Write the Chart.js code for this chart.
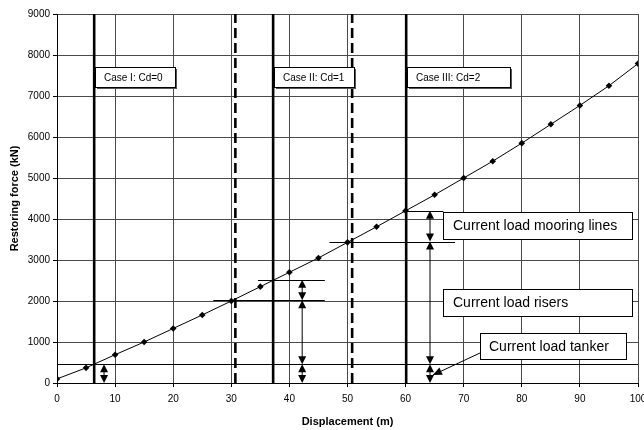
<!DOCTYPE html>
<html>
<head>
<meta charset="utf-8">
<script src="https://cdn.jsdelivr.net/npm/chart.js@4.4.1/dist/chart.umd.min.js"></script>
<style>
  html, body { margin: 0; padding: 0; background: #fff; }
  #wrap { width: 644px; height: 430px; }
</style>
</head>
<body>
<div id="wrap"><canvas id="chart" width="644" height="430"></canvas></div>
<script>
// Restoring force curve of the mooring system
const displacement   = [0, 5, 10, 15, 20, 25, 30, 35, 40, 45, 50, 55, 60, 65, 70, 75, 80, 85, 90, 95, 100];
const restoringForce = [100, 370, 690, 1000, 1330, 1660, 2000, 2350, 2700, 3050, 3430, 3810, 4200, 4590, 5000, 5410, 5850, 6310, 6770, 7250, 7790];

// Axis ticks
const xTickStep = 10;
const yTickStep = 1000;

// Load cases and their equilibrium offsets (m)
const caseLabels  = ['Case I: Cd=0', 'Case II: Cd=1', 'Case III: Cd=2'];
const caseOffsets = [6.4, 37.2, 60.1];
const dashedOffsets = [30.7, 50.8];

// Current load levels (kN)
const tankerLoad  = 460;
const riserTop    = [2020, 3450];   // tanker + risers, Cd=1 and Cd=2
const mooringTop  = [2520, 4200];   // tanker + risers + mooring lines
const arrowOffsets = [8.1, 42.2, 64.2];

// Load labels
const loadLabels = ['Current load mooring lines', 'Current load risers', 'Current load tanker'];

const FONT = '"Liberation Sans", Arial, sans-serif';

function head(ctx, x, y, dir) {
  // filled arrowhead with its tip at (x, y); dir -1 points up, +1 points down
  ctx.beginPath();
  ctx.moveTo(x, y);
  ctx.lineTo(x - 4, y - dir * 8);
  ctx.lineTo(x + 4, y - dir * 8);
  ctx.closePath();
  ctx.fill();
}

function doubleArrow(ctx, x, yTop, yBot) {
  ctx.beginPath();
  ctx.moveTo(x, yTop + 4);
  ctx.lineTo(x, yBot - 4);
  ctx.stroke();
  head(ctx, x, yTop, -1);
  head(ctx, x, yBot, 1);
}

function textBox(ctx, left, top, w, h, text, font, padLeft, shadow) {
  ctx.fillStyle = '#555';
  ctx.fillRect(left + shadow, top + shadow, w, h);
  ctx.fillStyle = '#fff';
  ctx.fillRect(left, top, w, h);
  ctx.strokeStyle = '#000';
  ctx.lineWidth = 1;
  ctx.strokeRect(left + 0.5, top + 0.5, w, h);
  ctx.fillStyle = '#000';
  ctx.font = font;
  ctx.textAlign = 'left';
  ctx.textBaseline = 'middle';
  ctx.fillText(text, left + padLeft, top + h / 2 + 1);
}

const loadAnnotations = {
  id: 'loadAnnotations',
  beforeDatasetsDraw(chart) {
    const { ctx, scales: { x, y } } = chart;
    const yMin = y.getPixelForValue(0), yMax = y.getPixelForValue(9000);
    ctx.save();
    ctx.strokeStyle = '#000';

    // equilibrium offsets
    ctx.lineWidth = 2.6;
    caseOffsets.forEach(v => {
      const px = x.getPixelForValue(v);
      ctx.beginPath(); ctx.moveTo(px, yMin); ctx.lineTo(px, yMax); ctx.stroke();
    });
    ctx.setLineDash([10, 5]);
    dashedOffsets.forEach(v => {
      const px = x.getPixelForValue(v);
      ctx.beginPath(); ctx.moveTo(px, yMin); ctx.lineTo(px, yMax); ctx.stroke();
    });
    ctx.setLineDash([]);

    // load level lines
    ctx.lineWidth = 1;
    const hLine = (v, x0, x1) => {
      const py = Math.round(y.getPixelForValue(v)) + 0.5;
      ctx.beginPath();
      ctx.moveTo(x.getPixelForValue(x0), py);
      ctx.lineTo(x.getPixelForValue(x1), py);
      ctx.stroke();
    };
    hLine(tankerLoad, 0, 100);
    hLine(riserTop[0], 26.9, 46.1);
    hLine(mooringTop[0], 34.6, 46.1);
    hLine(riserTop[1], 46.9, 68.5);
    hLine(mooringTop[1], 59.5, 66.5);
    ctx.restore();
  },
  afterDatasetsDraw(chart) {
    const { ctx, scales: { x, y } } = chart;
    ctx.save();
    ctx.strokeStyle = '#000';
    ctx.fillStyle = '#000';
    ctx.lineWidth = 1;

    // Case I: tanker only
    const a0 = x.getPixelForValue(arrowOffsets[0]);
    doubleArrow(ctx, a0, y.getPixelForValue(tankerLoad), y.getPixelForValue(0));

    // Case II and III: tanker, risers, mooring lines
    [1, 2].forEach((c, i) => {
      const ax = x.getPixelForValue(arrowOffsets[c]);
      doubleArrow(ctx, ax, y.getPixelForValue(mooringTop[i]), y.getPixelForValue(riserTop[i]));
      doubleArrow(ctx, ax, y.getPixelForValue(riserTop[i]), y.getPixelForValue(tankerLoad));
      doubleArrow(ctx, ax, y.getPixelForValue(tankerLoad), y.getPixelForValue(0));
    });

    // pointer from the tanker label
    const sx = x.getPixelForValue(72.8), sy = y.getPixelForValue(731);
    const tx = x.getPixelForValue(64.7), ty = y.getPixelForValue(195);
    ctx.beginPath(); ctx.moveTo(sx, sy); ctx.lineTo(tx, ty); ctx.stroke();
    const ang = Math.atan2(ty - sy, tx - sx);
    ctx.beginPath();
    ctx.moveTo(tx, ty);
    ctx.lineTo(tx - 9 * Math.cos(ang) + 4 * Math.sin(ang), ty - 9 * Math.sin(ang) - 4 * Math.cos(ang));
    ctx.lineTo(tx - 9 * Math.cos(ang) - 4 * Math.sin(ang), ty - 9 * Math.sin(ang) + 4 * Math.cos(ang));
    ctx.closePath(); ctx.fill();

    // case labels
    const caseWidths = [80, 80, 103];
    caseOffsets.forEach((v, i) => {
      textBox(ctx, Math.round(x.getPixelForValue(v)) + 1, Math.round(y.getPixelForValue(7700)),
        caseWidths[i], 20, caseLabels[i], '10px ' + FONT, 9, 2);
    });

    // load labels
    const bigFont = '14px ' + FONT;
    textBox(ctx, Math.round(x.getPixelForValue(66.4)), Math.round(y.getPixelForValue(4167)), 189, 27, loadLabels[0], bigFont, 10, 1);
    textBox(ctx, Math.round(x.getPixelForValue(66.4)), Math.round(y.getPixelForValue(2290)), 189, 27, loadLabels[1], bigFont, 10, 1);
    textBox(ctx, Math.round(x.getPixelForValue(72.8)), Math.round(y.getPixelForValue(1218)), 146, 26, loadLabels[2], bigFont, 9, 1);
    ctx.restore();
  }
};

new Chart(document.getElementById('chart'), {
  type: 'line',
  data: {
    datasets: [{
      data: displacement.map((d, i) => ({ x: d, y: restoringForce[i] })),
      borderColor: '#000',
      borderWidth: 1,
      pointStyle: 'rectRot',
      pointRadius: 3.3,
      pointBackgroundColor: '#000',
      pointBorderColor: '#000',
      pointBorderWidth: 0,
      tension: 0
    }]
  },
  options: {
    responsive: false,
    animation: false,
    devicePixelRatio: 1,
    layout: { padding: { top: 14, right: 6, left: 0, bottom: 0 } },
    plugins: { legend: { display: false }, tooltip: { enabled: false } },
    scales: {
      x: {
        type: 'linear', min: 0, max: 100,
        ticks: { stepSize: xTickStep, color: '#000', font: { family: FONT, size: 10 }, padding: 6, maxRotation: 0,
                 callback: v => String(v) },
        grid: { color: '#4a4a4a', lineWidth: 1, tickLength: 4, tickColor: '#000' },
        border: { color: '#000' },
        title: { display: true, text: 'Displacement (m)', color: '#000', font: { family: FONT, size: 11, weight: 'bold' }, padding: { top: 0, bottom: 1.5 } },
        afterFit(s) { s.height = 47; s.paddingLeft = 0; s.paddingRight = 0; }
      },
      y: {
        min: 0, max: 9000,
        ticks: { stepSize: yTickStep, color: '#000', font: { family: FONT, size: 10 }, padding: 3,
                 callback: v => String(v) },
        grid: { color: '#4a4a4a', lineWidth: 1, tickLength: 4, tickColor: '#000' },
        border: { color: '#000' },
        title: { display: true, text: 'Restoring force (kN)', color: '#000', font: { family: FONT, size: 11, weight: 'bold' }, padding: { top: 8, bottom: 0 } },
        afterFit(s) { s.width = 57; }
      }
    }
  },
  plugins: [loadAnnotations]
});
</script>
</body>
</html>
